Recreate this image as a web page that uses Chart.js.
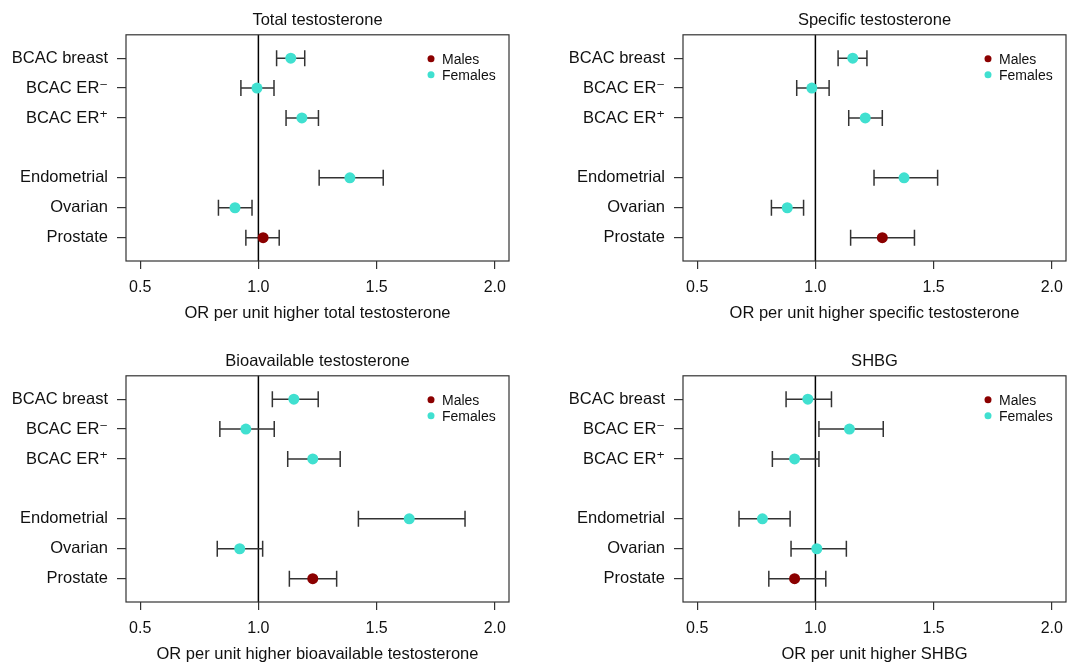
<!DOCTYPE html>
<html>
<head>
<meta charset="utf-8">
<script src="https://cdn.jsdelivr.net/npm/chart.js@4.4.1/dist/chart.umd.min.js"></script>
<style>
  body { margin: 0; background: #fff; }
  #wrap { position: relative; width: 1090px; height: 666px; }
  .panel { position: absolute; width: 530px; height: 325px; }
</style>
</head>
<body>
<div id="wrap">
  <div class="panel" style="left:0;top:0"><canvas id="totalChart" width="530" height="325"></canvas></div>
  <div class="panel" style="left:557px;top:0"><canvas id="specificChart" width="530" height="325"></canvas></div>
  <div class="panel" style="left:0;top:341px"><canvas id="bioChart" width="530" height="325"></canvas></div>
  <div class="panel" style="left:557px;top:341px"><canvas id="shbgChart" width="530" height="325"></canvas></div>
</div>
<script>
// outcomes, in plotting order (row 4 left empty as a spacer)
const outcomes = ["BCAC breast", "BCAC ER\u207B", "BCAC ER\u207A", "Endometrial", "Ovarian", "Prostate"];
const rowPos = [1, 2, 3, 5, 6, 7];
const sex = ["F", "F", "F", "F", "F", "M"];
const xTicks = [0.5, 1.0, 1.5, 2.0];
const legendLabels = ["Males", "Females"];

// odds ratios with 95% CI
const totalOR = [1.137, 0.994, 1.184, 1.387, 0.901, 1.020];
const totalLo = [1.077, 0.926, 1.117, 1.257, 0.831, 0.947];
const totalHi = [1.196, 1.066, 1.254, 1.528, 0.973, 1.088];

const specificOR = [1.158, 0.985, 1.211, 1.375, 0.881, 1.283];
const specificLo = [1.096, 0.921, 1.141, 1.248, 0.814, 1.149];
const specificHi = [1.218, 1.058, 1.283, 1.517, 0.950, 1.419];

const bioOR = [1.150, 0.947, 1.230, 1.638, 0.921, 1.230];
const bioLo = [1.059, 0.837, 1.124, 1.423, 0.826, 1.131];
const bioHi = [1.253, 1.067, 1.346, 1.874, 1.018, 1.331];

const shbgOR = [0.968, 1.144, 0.912, 0.776, 1.006, 0.912];
const shbgLo = [0.876, 1.015, 0.818, 0.677, 0.897, 0.803];
const shbgHi = [1.068, 1.287, 1.015, 0.893, 1.131, 1.044];

const FONT = "'Liberation Sans', Arial, 'DejaVu Sans', sans-serif";
const COL_M = "#8b0000";
const COL_F = "#40e0d0";
const INK = "#333";

function makePanel(id, title, xTitle, or, lo, hi) {
  // frame, null line, whiskers and the inset legend
  const forestPlugin = {
    id: "forest",
    beforeDatasetsDraw(chart) {
      const { ctx, chartArea: a, scales: { x, y } } = chart;
      ctx.save();
      ctx.strokeStyle = "#000";
      ctx.lineWidth = 1.5;
      const x1 = x.getPixelForValue(1);
      ctx.beginPath();
      ctx.moveTo(x1, a.top);
      ctx.lineTo(x1, a.bottom);
      ctx.stroke();

      ctx.strokeStyle = INK;
      ctx.lineWidth = 1.5;
      rowPos.forEach((r, i) => {
        const py = y.getPixelForValue(r);
        const xl = x.getPixelForValue(lo[i]);
        const xh = x.getPixelForValue(hi[i]);
        ctx.beginPath();
        ctx.moveTo(xl, py); ctx.lineTo(xh, py);
        ctx.moveTo(xl, py - 8); ctx.lineTo(xl, py + 8);
        ctx.moveTo(xh, py - 8); ctx.lineTo(xh, py + 8);
        ctx.stroke();
      });
      ctx.restore();
    },
    afterDraw(chart) {
      const { ctx, chartArea: a } = chart;
      ctx.save();
      ctx.strokeStyle = INK;
      ctx.lineWidth = 1.2;
      ctx.strokeRect(a.left, a.top, a.right - a.left, a.bottom - a.top);

      const lx = a.right - 78;
      ctx.font = "14px " + FONT;
      ctx.textBaseline = "middle";
      ctx.textAlign = "left";
      legendLabels.forEach((lab, i) => {
        const ly = a.top + 24 + i * 16;
        ctx.fillStyle = i === 0 ? COL_M : COL_F;
        ctx.beginPath();
        ctx.arc(lx, ly, 3.5, 0, Math.PI * 2);
        ctx.fill();
        ctx.fillStyle = "#111";
        ctx.fillText(lab, lx + 11, ly + 1);
      });
      ctx.restore();
    }
  };

  return new Chart(document.getElementById(id), {
    type: "scatter",
    data: {
      datasets: [{
        data: or.map((v, i) => ({ x: v, y: rowPos[i] })),
        pointRadius: 5.5,
        pointBorderWidth: 0,
        pointBackgroundColor: sex.map(s => s === "M" ? COL_M : COL_F)
      }]
    },
    options: {
      responsive: false,
      animation: false,
      events: [],
      layout: { padding: { left: 0, right: 21, top: 0, bottom: 0 } },
      plugins: {
        legend: { display: false },
        tooltip: { enabled: false },
        title: {
          display: true,
          text: title,
          fullSize: false,
          color: "#111",
          font: { family: FONT, size: 16.5, weight: "normal" },
          padding: { top: 11, bottom: 4 }
        }
      },
      scales: {
        x: {
          type: "linear",
          min: 0.44,
          max: 2.06,
          afterBuildTicks: s => { s.ticks = xTicks.map(v => ({ value: v })); },
          afterFit: s => { s.height = 64; },
          ticks: {
            callback: v => v.toFixed(1),
            color: "#111",
            padding: 9,
            font: { family: FONT, size: 16 }
          },
          grid: { drawOnChartArea: false, tickLength: 8, color: INK, lineWidth: 1.2 },
          border: { display: false },
          title: {
            display: true,
            text: xTitle,
            color: "#111",
            font: { family: FONT, size: 16.5 },
            padding: { top: 0, bottom: 2 }
          }
        },
        y: {
          type: "linear",
          reverse: true,
          min: 0.22,
          max: 7.78,
          afterBuildTicks: s => { s.ticks = rowPos.map(v => ({ value: v })); },
          afterFit: s => { s.width = 126; },
          ticks: {
            callback: (v, i) => outcomes[i],
            color: "#111",
            padding: 9,
            font: { family: FONT, size: 16.5 }
          },
          grid: { drawOnChartArea: false, tickLength: 9, color: INK, lineWidth: 1.2 },
          border: { display: false }
        }
      }
    },
    plugins: [forestPlugin]
  });
}

makePanel("totalChart", "Total testosterone", "OR per unit higher total testosterone", totalOR, totalLo, totalHi);
makePanel("specificChart", "Specific testosterone", "OR per unit higher specific testosterone", specificOR, specificLo, specificHi);
makePanel("bioChart", "Bioavailable testosterone", "OR per unit higher bioavailable testosterone", bioOR, bioLo, bioHi);
makePanel("shbgChart", "SHBG", "OR per unit higher SHBG", shbgOR, shbgLo, shbgHi);
</script>
</body>
</html>
